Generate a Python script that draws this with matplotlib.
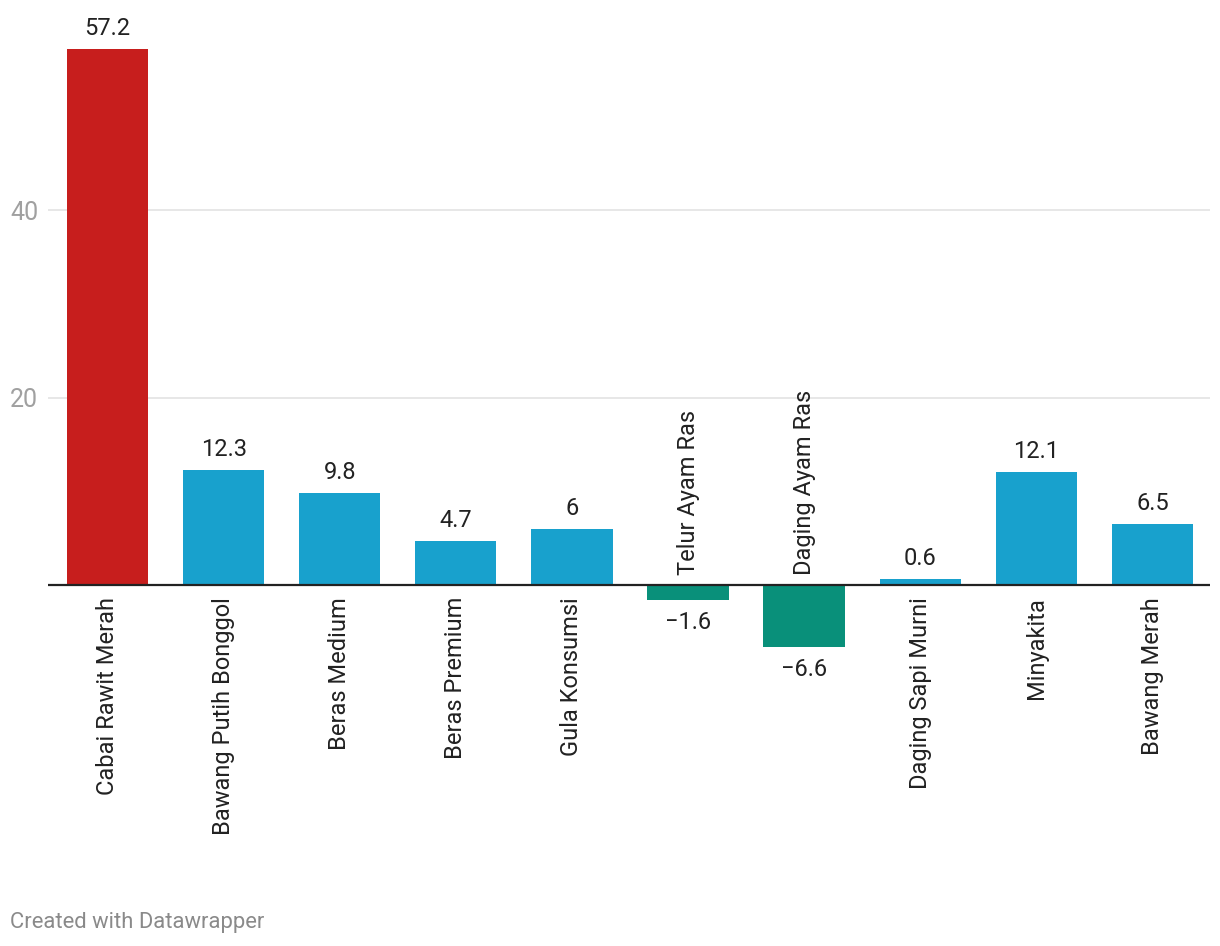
import numpy as np
import matplotlib.pyplot as plt

plt.rcParams['font.family'] = ['Roboto', 'DejaVu Sans']

# data
categories = ['Cabai Rawit Merah', 'Bawang Putih Bonggol', 'Beras Medium', 'Beras Premium',
              'Gula Konsumsi', 'Telur Ayam Ras', 'Daging Ayam Ras', 'Daging Sapi Murni',
              'Minyakita', 'Bawang Merah']
values = [57.2, 12.3, 9.8, 4.7, 6, -1.6, -6.6, 0.6, 12.1, 6.5]
labels = ['57.2', '12.3', '9.8', '4.7', '6', '\u22121.6', '\u22126.6', '0.6', '12.1', '6.5']
yticks = [20, 40]

RED = '#c71e1d'
BLUE = '#18a1cd'
GREEN = '#09907a'
FS = 17

W, H = 1220, 946
fig = plt.figure(figsize=(W / 100, H / 100), dpi=100)
# zero at y=585px, 20 units = 187.5 px
ymin, ymax = -8, 60
px_per = 187.5 / 20
top_px = 585 - ymax * px_per
bot_px = 585 - ymin * px_per
ax = fig.add_axes([48 / W, 1 - bot_px / H, (1210 - 48) / W, (bot_px - top_px) / H])
ax.set_xlim(-0.513, 9.496)
ax.set_ylim(ymin, ymax)

x = np.arange(len(categories))
colors = []
for i, v in enumerate(values):
    if i == 0:
        colors.append(RED)
    elif v < 0:
        colors.append(GREEN)
    else:
        colors.append(BLUE)
ax.bar(x, values, width=0.7, color=colors, zorder=2)

for s in ax.spines.values():
    s.set_visible(False)
ax.set_xticks([])
ax.set_yticks(yticks)
ax.tick_params(axis='y', length=0, labelsize=18, labelcolor='#a0a0a0', pad=7)
ax.grid(axis='y', color='#e3e3e3', linewidth=1.2, zorder=0)
ax.axhline(0, color='#222222', linewidth=1.6, zorder=3)

for xi, v, lab, cat in zip(x, values, labels, categories):
    if v >= 0:
        ax.annotate(lab, (xi, v), xytext=(0, 9), textcoords='offset pixels',
                    ha='center', va='bottom', fontsize=FS, color='#222222')
        ax.annotate(cat, (xi, 0), xytext=(0, -12), textcoords='offset pixels',
                    ha='center', va='top', rotation=90, fontsize=FS, color='#222222')
    else:
        ax.annotate(lab, (xi, v), xytext=(0, -11), textcoords='offset pixels',
                    ha='center', va='top', fontsize=FS, color='#222222')
        ax.annotate(cat, (xi, 0), xytext=(0, 10), textcoords='offset pixels',
                    ha='center', va='bottom', rotation=90, fontsize=FS, color='#222222')

fig.text(10 / W, 1 - 922 / H, 'Created with Datawrapper', fontsize=15.8, color='#8a8a8a',
         ha='left', va='center')

fig.savefig('out.png', dpi=100)
